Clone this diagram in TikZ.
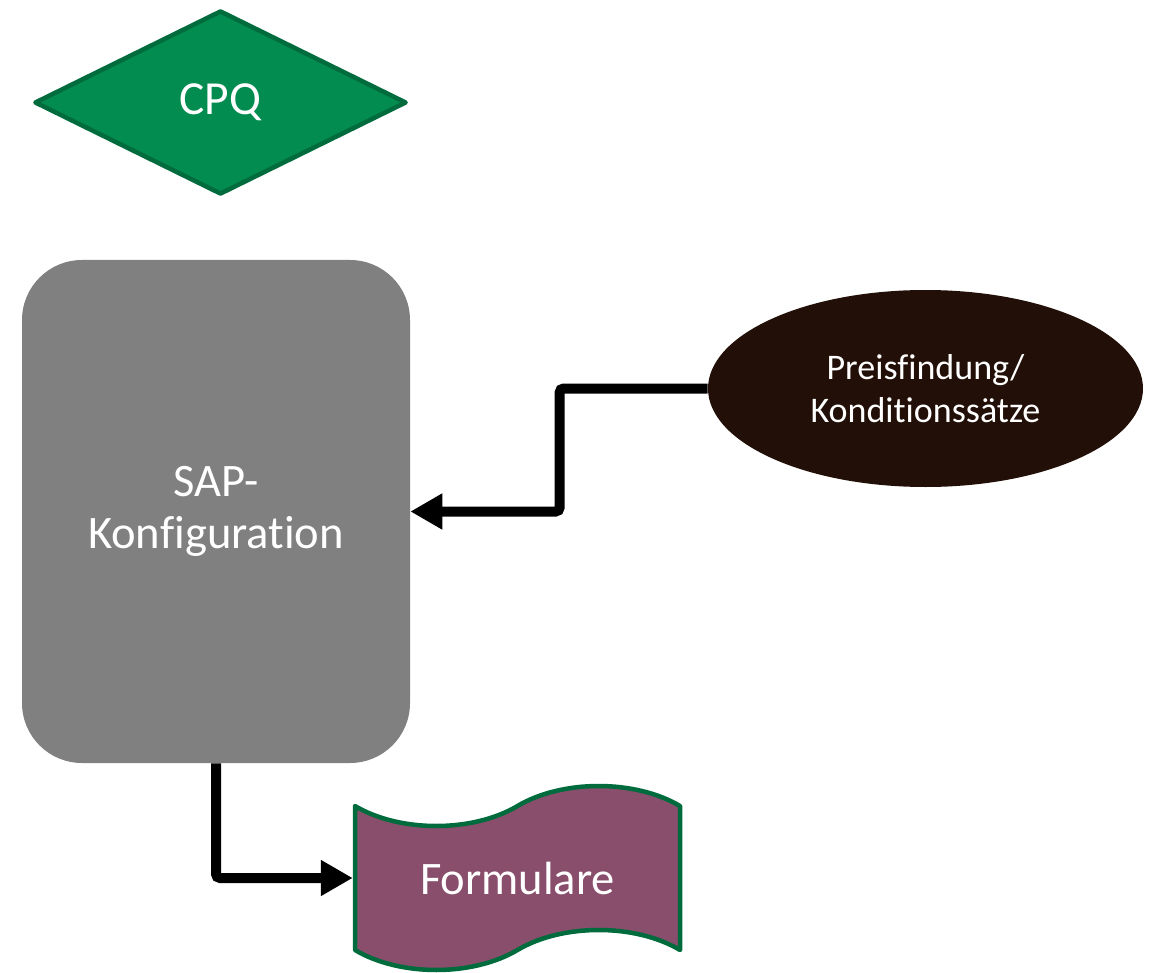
\documentclass[tikz,border=0pt]{standalone}
\usepackage{fontspec}
\setmainfont{Carlito}[Ligatures=NoCommon]
\usetikzlibrary{positioning,shapes.geometric,shapes.symbols,arrows.meta}

\definecolor{cpqgreen}{HTML}{038C50}
\definecolor{darkgreen}{HTML}{006B3C}
\definecolor{sapgray}{HTML}{808080}
\definecolor{pricebrown}{HTML}{221008}
\definecolor{formmauve}{HTML}{884E6B}

\begin{document}
\begin{tikzpicture}[
decision/.style={diamond, draw=darkgreen, fill=cpqgreen, line width=0.09cm, line join=round, minimum width=7.44cm, minimum height=3.68cm, inner sep=0pt, text=white, font=\fontsize{27}{32}\selectfont},
process/.style={rectangle, rounded corners=1.2cm, fill=sapgray, minimum width=7.76cm, minimum height=10.06cm, text=white, align=center, font=\fontsize{26.5}{30}\selectfont},
source/.style={ellipse, fill=pricebrown, minimum width=8.7cm, minimum height=3.94cm, text=white, align=center, font=\fontsize{20.5}{24.5}\selectfont},
document/.style={tape, draw=darkgreen, fill=formmauve, line width=0.09cm, line join=round, minimum width=6.5cm, minimum height=3.68cm, tape bend height=0.8cm, text=white, font=\fontsize{26.5}{30}\selectfont},
flow/.style={line width=0.2cm, rounded corners=0.08cm, -{Triangle[length=0.64cm,width=0.68cm]}}
]
\useasboundingbox (0,0) rectangle (23,-19.46);

\node[decision](cpq) at (4.41,-2.05){CPQ};

\node[process](sap_config) at (4.32,-10.23){SAP-\\Konfiguration};
\node[source](prices) at (18.51,-7.77){Preisfindung/\\Konditionssätze};
\node[document](forms) at (10.35,-17.56){Formulare};

\draw[flow] (prices.west) -- ++(-2.96,0) |- (sap_config.east);
\draw[flow] (sap_config.south) |- (forms.west);
\end{tikzpicture}
\end{document}
